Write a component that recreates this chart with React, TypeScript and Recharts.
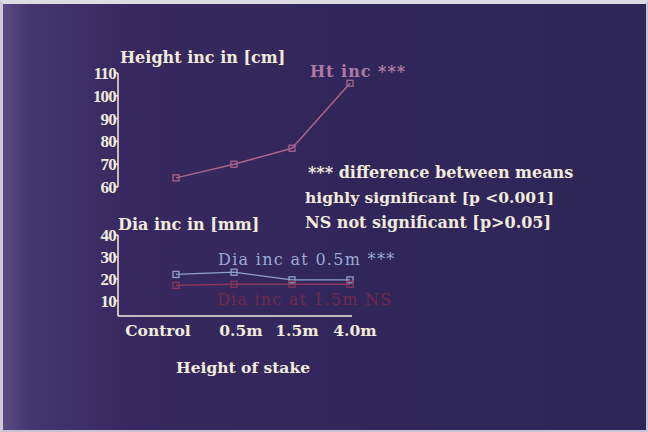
import React from 'react';
import { LineChart, Line, XAxis, YAxis } from 'recharts';

const categories = ['Control', '0.5m', '1.5m', '4.0m'];
const htInc = [64, 70, 77, 105.5];
const dia05 = [22, 23, 19.5, 19.5];
const dia15 = [17, 17.5, 17.5, 17.5];
const htTicks = [60, 70, 80, 90, 100, 110];
const diaTicks = [10, 20, 30, 40];

const htData = categories.map((c, i) => ({ cat: c, ht: htInc[i] }));
const diaData = categories.map((c, i) => ({ cat: c, d05: dia05[i], d15: dia15[i] }));

const FONT = "'DejaVu Serif', 'Liberation Serif', serif";
const TICKFONT = "'Liberation Serif', 'DejaVu Serif', serif";
const CREAM = '#f1ebdc';
const HT = '#a8658a';
const BLUE = '#8fa1c9';
const RED = '#8a3658';

const squareDot = (color: string) => (props: any) => {
  const { cx, cy, index } = props;
  if (cx == null || cy == null) return <g key={index} />;
  return (
    <rect key={index} x={cx - 3} y={cy - 3} width={6} height={6} fill="none" stroke={color} strokeWidth={1.3} />
  );
};

const tickNudge = [-18, 7, 5, 5];
const XTick = (props: any) => {
  const { x, y, payload, index } = props;
  return (
    <text x={x + (tickNudge[index] || 0)} y={y + 20} textAnchor="middle" fill={CREAM} fontFamily={FONT} fontWeight="bold" fontSize={15.5}>
      {payload.value}
    </text>
  );
};

const YTick = (props: any) => {
  const { x, y, payload } = props;
  return (
    <text x={x + 1} y={y + 6} textAnchor="end" fill={CREAM} fontFamily={TICKFONT} fontWeight="bold" fontSize={17} letterSpacing={-0.8}>
      {payload.value}
    </text>
  );
};

export default function App() {
  return (
    <div
      style={{
        position: 'fixed',
        left: 0,
        top: 0,
        width: 648,
        height: 432,
        boxSizing: 'border-box',
        borderTop: '4px solid #dcdce2',
        borderLeft: '3px solid #cfc8d8',
        borderRight: '2px solid #c8c4d4',
        borderBottom: '2px solid #c8c4d4',
        background: 'linear-gradient(90deg, #5a4a82 0%, #44366f 4%, #37295f 20%, #30265a 60%, #2e2657 100%)',
        overflow: 'hidden',
      }}
    >
      <div style={{ position: 'absolute', left: -3, top: -4 }}>
        <LineChart width={648} height={200} data={htData} margin={{ top: 73, right: 296, left: 70, bottom: 13 }}>
          <XAxis dataKey="cat" hide padding={{ left: 58, right: 2 }} />
          <YAxis
            width={48}
            domain={[60, 110]}
            ticks={htTicks}
            interval={0}
            stroke={CREAM}
            strokeWidth={1.5}
            tickSize={3}
            tickMargin={0}
            tick={<YTick />}
          />
          <Line dataKey="ht" stroke={HT} strokeWidth={1.5} dot={squareDot(HT)} isAnimationActive={false} />
        </LineChart>
      </div>
      <div style={{ position: 'absolute', left: -3, top: -4 }}>
        <LineChart width={648} height={432} data={diaData} margin={{ top: 235, right: 296, left: 70, bottom: 86 }}>
          <XAxis
            dataKey="cat"
            padding={{ left: 58, right: 2 }}
            stroke={CREAM}
            strokeWidth={1.5}
            tickLine={false}
            tickSize={0}
            tickMargin={0}
            height={30}
            interval={0}
            tick={<XTick />}
          />
          <YAxis
            width={48}
            domain={[3, 40]}
            ticks={diaTicks}
            interval={0}
            stroke={CREAM}
            strokeWidth={1.5}
            tickSize={3}
            tickMargin={0}
            tick={<YTick />}
          />
          <Line dataKey="d05" stroke={BLUE} strokeWidth={1.3} dot={squareDot(BLUE)} isAnimationActive={false} />
          <Line dataKey="d15" stroke={RED} strokeWidth={1.5} dot={squareDot(RED)} isAnimationActive={false} />
        </LineChart>
      </div>
      <svg width={648} height={432} style={{ position: 'absolute', left: -3, top: -4, pointerEvents: 'none' }}>
        <g fontFamily={FONT} fontWeight="bold" fontSize={16} fill={CREAM}>
          <text x={120} y={63}>Height inc in [cm]</text>
          <text x={308} y={178}>*** difference between means</text>
          <text x={305} y={203} fontSize={15.5}>highly significant [p &lt;0.001]</text>
          <text x={305} y={228}>NS not significant [p&gt;0.05]</text>
          <text x={118} y={230}>Dia inc in [mm]</text>
          <text x={176} y={373} fontSize={15.5}>Height of stake</text>
        </g>
        <text x={310} y={77} fontFamily={FONT} fontWeight="bold" fontSize={16} letterSpacing={1} fill="#b07aa2">Ht inc ***</text>
        <text x={218} y={265} fontFamily={FONT} fontSize={16} letterSpacing={1.3} fill="#9aaad4">Dia inc at 0.5m ***</text>
        <text x={217} y={305} fontFamily={FONT} fontSize={16} letterSpacing={1.2} fill="#72294a">Dia inc at 1.5m NS</text>
      </svg>
    </div>
  );
}
